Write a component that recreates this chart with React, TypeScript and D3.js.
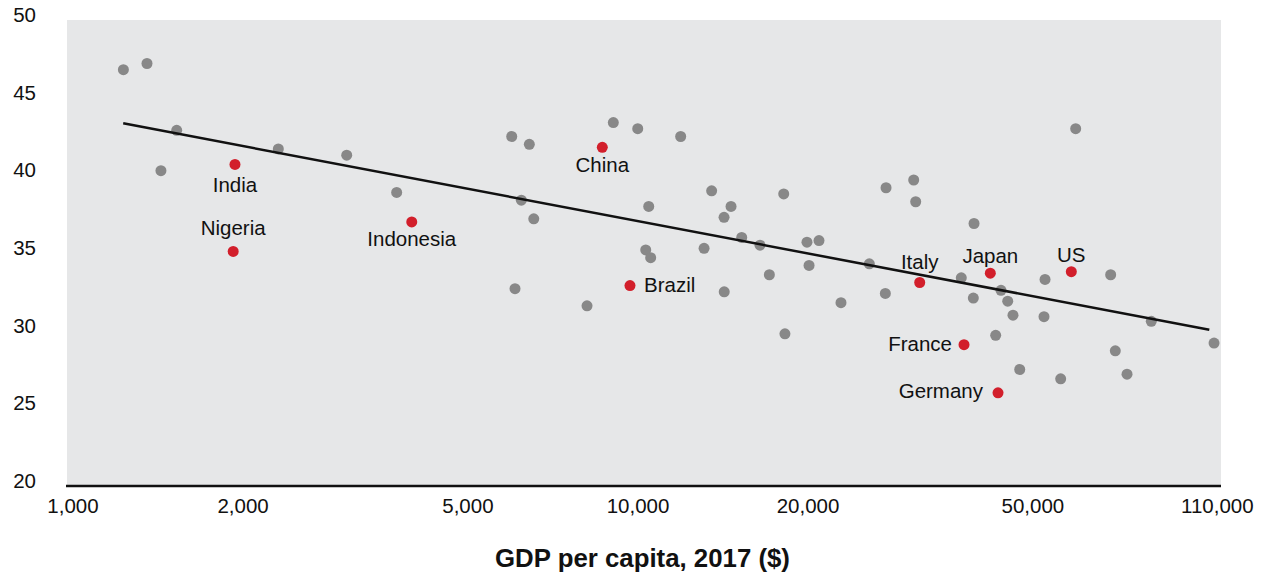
import React from "react";
import * as d3 from "d3";

// ---- data ----
const otherGdp = [
  1228, 1352, 1526, 1431, 2309, 3051, 3740,
  5977, 6422, 9043, 9989, 11900, 13500, 18110, 6216, 6539, 10447, 14610, 14200,
  15260, 16440, 19910, 20910, 20080, 10320, 10530, 13090, 17080, 22870, 25670,
  6058, 8124, 14210, 18200,
  59520, 27480, 30760, 31010, 39330, 27400, 37340, 43900, 39220, 45120, 52530,
  68640, 46100, 52310, 81000, 42960, 104600, 69950, 47380, 55990, 73370,
];
const otherValue = [
  46.8, 47.2, 42.9, 40.3, 41.7, 41.3, 38.9,
  42.5, 42.0, 43.4, 43.0, 42.5, 39.0, 38.8, 38.4, 37.2, 38.0, 38.0, 37.3,
  36.0, 35.5, 35.7, 35.8, 34.2, 35.2, 34.7, 35.3, 33.6, 31.8, 34.3,
  32.7, 31.6, 32.5, 29.8,
  43.0, 39.2, 39.7, 38.3, 36.9, 32.4, 33.4, 32.6, 32.1, 31.9, 33.3,
  33.6, 31.0, 30.9, 30.6, 29.7, 29.2, 28.7, 27.5, 26.9, 27.2,
];

const highlightNames = ["India", "Nigeria", "Indonesia", "China", "Brazil", "Italy", "Japan", "US", "France", "Germany"];
const highlightGdp = [1935, 1921, 3977, 8646, 9679, 31520, 42030, 58470, 37760, 43370];
const highlightValue = [40.7, 35.1, 37.0, 41.8, 32.9, 33.1, 33.7, 33.8, 29.1, 26.0];
// label placement (style): anchor, dx, dy
const labelAnchor = ["middle", "middle", "middle", "middle", "start", "middle", "middle", "middle", "end", "end"];
const labelDx = [0, 0, 0, 0, 14, 0, 0, 0, -12, -15];
const labelDy = [28, -16.5, 24.5, 25, 6.5, -14, -10.5, -9.5, 6.5, 5.5];

const trendGdp = [1227, 102600];
const trendValue = [43.35, 30.06];

const xTicks = [1000, 2000, 5000, 10000, 20000, 50000, 110000];
const yTicks = [20, 25, 30, 35, 40, 45, 50];
const xTitle = "GDP per capita, 2017 ($)";

// ---- layout ----
const W = 1267;
const H = 580;
const plotLeft = 67;
const plotRight = 1221;
const plotTop = 20;
const plotBottom = 486;

const GRAY = "#888888";
const RED = "#d21f2b";
const BG = "#e6e7e8";
const FONT = "'Liberation Sans', Arial, Helvetica, sans-serif";

export default function App() {
  const x = d3.scaleLog().domain([1000, 100000]).range([73, 1203]);
  const y = d3.scaleLinear().domain([20, 50]).range([plotBottom, plotTop]);
  const fmt = d3.format(",");

  const trendLine = d3
    .line<number>()
    .x((_, i) => x(trendGdp[i]))
    .y((_, i) => y(trendValue[i]))(trendGdp);

  return (
    <svg
      width={W}
      height={H}
      style={{ position: "absolute", left: 0, top: 0, background: "#ffffff" }}
      fontFamily={FONT}
    >
      <rect x={plotLeft} y={plotTop} width={plotRight - plotLeft} height={plotBottom - plotTop} fill={BG} />

      {yTicks.map((t) => (
        <text key={t} x={36} y={y(t)} dy="0.1em" textAnchor="end" fontSize={20.5} fill="#111">
          {t}
        </text>
      ))}

      {xTicks.map((t, i) => (
        <text
          key={t}
          x={x(t) + (i === xTicks.length - 1 ? -9 : 0)}
          y={513}
          textAnchor="middle"
          fontSize={20.5}
          fill="#111"
        >
          {fmt(t)}
        </text>
      ))}

      <line x1={plotLeft - 1} x2={plotRight} y1={plotBottom} y2={plotBottom} stroke="#111" strokeWidth={2.5} />

      {otherGdp.map((g, i) => (
        <circle key={"o" + i} cx={x(g)} cy={y(otherValue[i])} r={5.5} fill={GRAY} />
      ))}

      <path d={trendLine ?? ""} stroke="#111" strokeWidth={2.5} fill="none" />

      {highlightGdp.map((g, i) => (
        <g key={"h" + i}>
          <circle cx={x(g)} cy={y(highlightValue[i])} r={5.5} fill={RED} />
          <text
            x={x(g) + labelDx[i]}
            y={y(highlightValue[i]) + labelDy[i]}
            textAnchor={labelAnchor[i] as any}
            fontSize={20.5}
            fill="#111"
          >
            {highlightNames[i]}
          </text>
        </g>
      ))}

      <text x={642.5} y={567} textAnchor="middle" fontSize={25.8} fontWeight="bold" fill="#111">
        {xTitle}
      </text>
    </svg>
  );
}
